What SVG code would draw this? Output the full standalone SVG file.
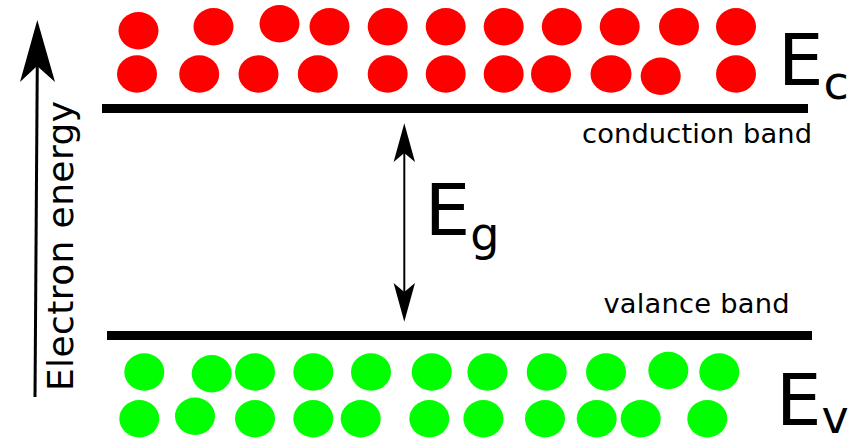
<svg xmlns="http://www.w3.org/2000/svg" width="852" height="440" viewBox="0 0 852 440">
<style>
  .lbl { font-family: "DejaVu Sans", "Liberation Sans", sans-serif; fill: #000; }
  .band { stroke: #000; stroke-width: 9; fill: none; }
  .red ellipse { fill: #ff0000; }
  .green ellipse { fill: #00ff00; }
  .shaft { stroke: #000; fill: none; }
</style>
<rect width="852" height="440" fill="#fff"/>

<g id="conduction-electrons" class="red">
  <ellipse cx="138.5" cy="30.7" rx="20" ry="18.7"/>
  <ellipse cx="213.5" cy="26.7" rx="20" ry="18.7"/>
  <ellipse cx="279.5" cy="23.8" rx="20" ry="18.7"/>
  <ellipse cx="329.5" cy="26.7" rx="20" ry="18.7"/>
  <ellipse cx="387.7" cy="26.7" rx="20" ry="18.7"/>
  <ellipse cx="445.7" cy="26.7" rx="20" ry="18.7"/>
  <ellipse cx="503.7" cy="26.7" rx="20" ry="18.7"/>
  <ellipse cx="561.8" cy="26.7" rx="20" ry="18.7"/>
  <ellipse cx="619.7" cy="26.7" rx="20" ry="18.7"/>
  <ellipse cx="679" cy="26.7" rx="20" ry="18.7"/>
  <ellipse cx="736" cy="26.7" rx="20" ry="18.7"/>
  <ellipse cx="137" cy="74" rx="20" ry="18.7"/>
  <ellipse cx="199.2" cy="74" rx="20" ry="18.7"/>
  <ellipse cx="258.5" cy="74" rx="20" ry="18.7"/>
  <ellipse cx="317.8" cy="74" rx="20" ry="18.7"/>
  <ellipse cx="387.7" cy="74" rx="20" ry="18.7"/>
  <ellipse cx="445.7" cy="74" rx="20" ry="18.7"/>
  <ellipse cx="503.7" cy="74" rx="20" ry="18.7"/>
  <ellipse cx="551" cy="74" rx="20" ry="18.7"/>
  <ellipse cx="611" cy="74" rx="20.5" ry="18.7"/>
  <ellipse cx="660.7" cy="76.2" rx="20" ry="18.7"/>
  <ellipse cx="736" cy="74" rx="20" ry="18.7"/>
</g>

<g id="valence-electrons" class="green">
  <ellipse cx="144.3" cy="372" rx="20" ry="18.7"/>
  <ellipse cx="211.7" cy="373.7" rx="20" ry="18.7"/>
  <ellipse cx="255" cy="372" rx="20" ry="18.7"/>
  <ellipse cx="313.3" cy="372" rx="20" ry="18.7"/>
  <ellipse cx="371" cy="372" rx="20" ry="18.7"/>
  <ellipse cx="431.7" cy="372" rx="20" ry="18.7"/>
  <ellipse cx="487.4" cy="372" rx="20" ry="18.7"/>
  <ellipse cx="546.7" cy="372" rx="20" ry="18.7"/>
  <ellipse cx="606" cy="372" rx="20" ry="18.7"/>
  <ellipse cx="668.3" cy="370.5" rx="20" ry="18.7"/>
  <ellipse cx="719.3" cy="372" rx="20" ry="18.7"/>
  <ellipse cx="139.3" cy="418.7" rx="20" ry="18.7"/>
  <ellipse cx="195" cy="416.2" rx="20" ry="18.7"/>
  <ellipse cx="255" cy="418.7" rx="20" ry="18.7"/>
  <ellipse cx="313.3" cy="418.7" rx="20" ry="18.7"/>
  <ellipse cx="360.7" cy="418.7" rx="20" ry="18.7"/>
  <ellipse cx="429.3" cy="418.7" rx="20" ry="18.7"/>
  <ellipse cx="483.4" cy="418.7" rx="20" ry="18.7"/>
  <ellipse cx="545" cy="418.7" rx="20" ry="18.7"/>
  <ellipse cx="596.7" cy="418.7" rx="20" ry="18.7"/>
  <ellipse cx="640.7" cy="418.7" rx="20" ry="18.7"/>
  <ellipse cx="707.3" cy="418.7" rx="20" ry="18.7"/>
</g>

<g id="conduction-band">
  <line class="band" x1="102" y1="108.5" x2="808" y2="108.5"/>
  <text class="lbl" x="582" y="143" font-size="27.3" textLength="230" lengthAdjust="spacing">conduction band</text>
  <text class="lbl" x="778" y="85" font-size="72">E<tspan font-size="46" dy="14">c</tspan></text>
</g>

<g id="valence-band">
  <line class="band" x1="107" y1="335.5" x2="812" y2="335.5"/>
  <text class="lbl" x="603.5" y="313" font-size="27.3" textLength="186" lengthAdjust="spacing">valance band</text>
  <text class="lbl" x="776" y="425" font-size="72">E<tspan font-size="46" dy="8">v</tspan></text>
</g>

<g id="energy-axis">
  <line class="shaft" stroke-width="3" x1="35" y1="397" x2="37.3" y2="62"/>
  <path d="M37.3,20 L55,82 L37.1,66 L20,82 Z" fill="#000"/>
  <text class="lbl" font-size="36" transform="translate(73,391) rotate(-90)" textLength="290" lengthAdjust="spacing">Electron energy</text>
</g>

<g id="connectors">
  <g id="gap-arrow">
    <line class="shaft" stroke-width="2" x1="404.3" y1="150" x2="404.3" y2="295"/>
    <path d="M404.3,123.3 L415,162 L404.3,153 L393.6,162 Z" fill="#000"/>
    <path d="M404.3,321.7 L415,283 L404.3,292 L393.6,283 Z" fill="#000"/>
  </g>
</g>

<g id="gap-label">
  <text class="lbl" x="424.7" y="235" font-size="72">E<tspan font-size="46" dy="15">g</tspan></text>
</g>
</svg>
